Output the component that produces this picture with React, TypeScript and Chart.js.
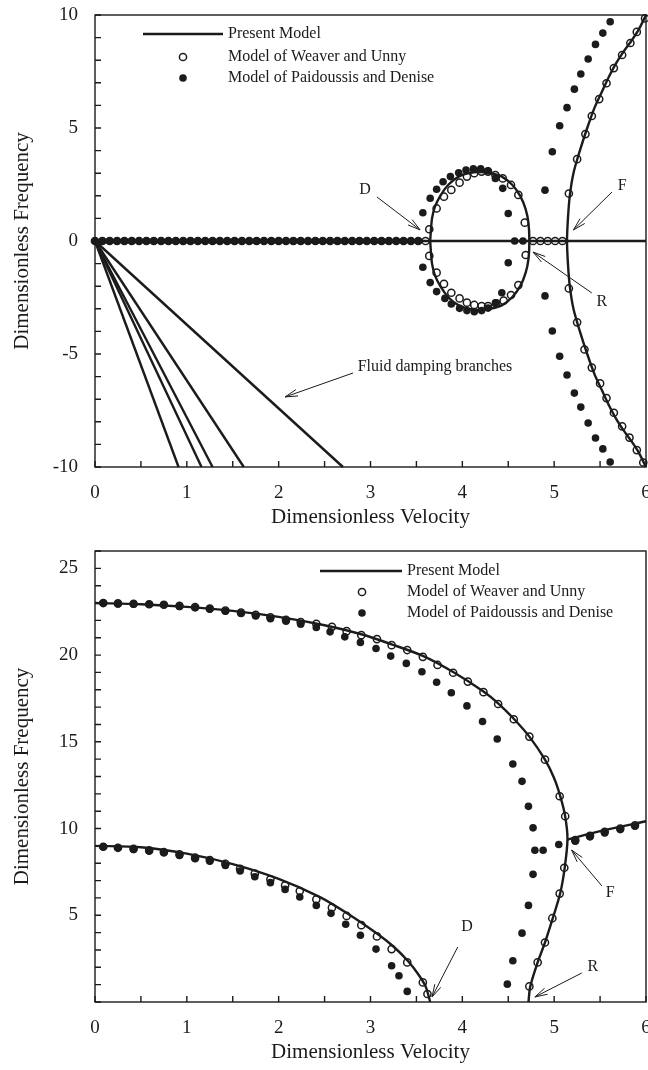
import React, { useEffect, useRef } from "react";
import { Chart, registerables } from "chart.js";
Chart.register(...registerables);

const FONT = "'Liberation Serif', 'Times New Roman', Times, serif";
const INK = "#1b1b1b";

// ---------------- TOP CHART DATA ----------------
const topZeroLineX = [0, 6];
const topZeroLineY = [0, 0];
const dampingEndX = [0.91, 1.16, 1.28, 1.62, 2.7];
const dampingEndY = [-10, -10, -10, -10, -10];

const topLoopX = [3.65, 3.66, 3.67, 3.7, 3.76, 3.85, 3.96, 4.07, 4.19, 4.31, 4.43, 4.54, 4.63, 4.69, 4.72, 4.73,
  4.72, 4.69, 4.63, 4.54, 4.43, 4.31, 4.19, 4.07, 3.96, 3.85, 3.76, 3.7, 3.67, 3.66, 3.65];
const topLoopY = [0, 0.6, 1.0, 1.5, 2.0, 2.5, 2.85, 3.0, 3.05, 2.99, 2.85, 2.5, 2.0, 1.4, 0.8, 0,
  -0.8, -1.4, -2.0, -2.5, -2.85, -2.99, -3.05, -3.0, -2.85, -2.5, -2.0, -1.5, -1.0, -0.6, 0];

const topBranchX = [6.0, 5.92, 5.84, 5.76, 5.68, 5.6, 5.52, 5.44, 5.36, 5.28, 5.21, 5.17, 5.15, 5.14,
  5.15, 5.17, 5.21, 5.28, 5.36, 5.44, 5.52, 5.6, 5.68, 5.76, 5.84, 5.92, 6.0];
const topBranchY = [-10, -9.35, -8.85, -8.4, -7.9, -7.3, -6.6, -5.9, -5, -4, -3, -2, -1, 0,
  1, 2, 3, 4, 5, 5.9, 6.6, 7.3, 7.9, 8.4, 8.85, 9.35, 10];

const topRowY = 0;
const weaverRowX = [0, 0.08, 0.16, 0.24, 0.32, 0.4, 0.48, 0.56, 0.64, 0.72, 0.8, 0.88, 0.96, 1.04, 1.12, 1.2,
  1.28, 1.36, 1.44, 1.52, 1.6, 1.68, 1.76, 1.84, 1.92, 2.0, 2.08, 2.16, 2.24, 2.32, 2.4, 2.48, 2.56, 2.64,
  2.72, 2.8, 2.88, 2.96, 3.04, 3.12, 3.2, 3.28, 3.36, 3.44, 3.52, 3.6, 4.77, 4.85, 4.93, 5.01, 5.09];
const paidRowX = [0, 0.08, 0.16, 0.24, 0.32, 0.4, 0.48, 0.56, 0.64, 0.72, 0.8, 0.88, 0.96, 1.04, 1.12, 1.2,
  1.28, 1.36, 1.44, 1.52, 1.6, 1.68, 1.76, 1.84, 1.92, 2.0, 2.08, 2.16, 2.24, 2.32, 2.4, 2.48, 2.56, 2.64,
  2.72, 2.8, 2.88, 2.96, 3.04, 3.12, 3.2, 3.28, 3.36, 3.44, 3.52, 4.57, 4.66];

const weaverLoopUpX = [3.64, 3.72, 3.8, 3.88, 3.97, 4.05, 4.13, 4.21, 4.28, 4.36, 4.44, 4.53, 4.61, 4.68];
const weaverLoopUpY = [0.52, 1.44, 1.96, 2.26, 2.58, 2.85, 3.0, 3.07, 3.07, 2.92, 2.77, 2.48, 2.04, 0.81];
const weaverLoopLoX = [3.64, 3.72, 3.8, 3.88, 3.97, 4.05, 4.13, 4.21, 4.28, 4.37, 4.45, 4.53, 4.61, 4.69];
const weaverLoopLoY = [-0.66, -1.4, -1.9, -2.29, -2.54, -2.73, -2.83, -2.88, -2.88, -2.76, -2.64, -2.39, -1.95, -0.62];

const weaverBranchUpX = [5.16, 5.25, 5.34, 5.41, 5.49, 5.57, 5.65, 5.74, 5.83, 5.9, 5.99];
const weaverBranchUpY = [2.1, 3.62, 4.73, 5.53, 6.28, 6.98, 7.65, 8.23, 8.76, 9.25, 9.85];
const weaverBranchLoX = [5.16, 5.25, 5.33, 5.41, 5.5, 5.57, 5.65, 5.74, 5.82, 5.9, 5.97];
const weaverBranchLoY = [-2.1, -3.6, -4.8, -5.6, -6.3, -6.95, -7.6, -8.2, -8.7, -9.25, -9.8];

const paidLoopUpX = [3.57, 3.65, 3.72, 3.79, 3.87, 3.96, 4.04, 4.12, 4.2, 4.28, 4.36, 4.44, 4.5];
const paidLoopUpY = [1.25, 1.89, 2.29, 2.62, 2.85, 3.02, 3.14, 3.2, 3.2, 3.11, 2.77, 2.33, 1.22];
const paidLoopLoX = [3.57, 3.65, 3.72, 3.81, 3.88, 3.97, 4.05, 4.13, 4.21, 4.28, 4.36, 4.43, 4.5];
const paidLoopLoY = [-1.16, -1.84, -2.24, -2.54, -2.79, -2.98, -3.08, -3.13, -3.08, -2.97, -2.74, -2.29, -0.96];

const paidBranchX = [4.9, 4.98, 5.06, 5.14, 5.22, 5.29, 5.37, 5.45, 5.53, 5.61];
const paidBranchUpY = [2.25, 3.95, 5.1, 5.9, 6.72, 7.39, 8.05, 8.7, 9.2, 9.7];
const paidBranchLoY = [-2.43, -3.98, -5.1, -5.93, -6.73, -7.35, -8.05, -8.72, -9.2, -9.78];

// ---------------- BOTTOM CHART DATA ----------------
const botUpperX = [0, 0.5, 1.0, 1.5, 2.0, 2.5, 2.9, 3.23, 3.57, 3.9, 4.23, 4.39, 4.56, 4.73, 4.9, 5.0, 5.07,
  5.12, 5.145, 5.115, 5.065, 4.985, 4.9, 4.82, 4.74, 4.72];
const botUpperY = [23.0, 22.93, 22.78, 22.55, 22.2, 21.72, 21.2, 20.62, 19.95, 19.02, 17.9, 17.22, 16.33, 15.3,
  13.97, 12.9, 11.8, 10.7, 9.4, 7.75, 6.25, 4.83, 3.43, 2.28, 0.9, 0];
const botFBranchX = [5.145, 5.5, 6.0];
const botFBranchY = [9.37, 9.85, 10.42];
const botLowerX = [0, 0.5, 1.0, 1.5, 2.0, 2.45, 2.75, 3.07, 3.25, 3.41, 3.52, 3.6, 3.65];
const botLowerY = [9.0, 8.92, 8.55, 7.95, 7.1, 6.05, 5.1, 3.95, 3.2, 2.35, 1.6, 0.9, 0];

const weaverUpperX = [0.09, 0.25, 0.42, 0.59, 0.75, 0.92, 1.09, 1.25, 1.42, 1.59, 1.75, 1.91, 2.08, 2.24, 2.41,
  2.58, 2.74, 2.9, 3.07, 3.23, 3.4, 3.57, 3.73, 3.9, 4.06, 4.23, 4.39, 4.56, 4.73, 4.9, 5.06, 5.12, 5.11, 5.06,
  4.98, 4.9, 4.82, 4.73];
const weaverUpperY = [23.0, 22.98, 22.96, 22.93, 22.9, 22.84, 22.77, 22.68, 22.57, 22.45, 22.32, 22.18, 22.03,
  21.9, 21.8, 21.63, 21.38, 21.15, 20.92, 20.57, 20.29, 19.9, 19.43, 18.98, 18.47, 17.86, 17.18, 16.3, 15.3,
  13.97, 11.86, 10.71, 7.74, 6.25, 4.83, 3.43, 2.28, 0.9];
const weaverFX = [5.23, 5.39, 5.55, 5.72, 5.88];
const weaverFY = [9.33, 9.58, 9.81, 10.0, 10.19];
const weaverLowerX = [0.09, 0.25, 0.42, 0.59, 0.75, 0.92, 1.09, 1.25, 1.42, 1.58, 1.74, 1.91, 2.07, 2.23, 2.41,
  2.58, 2.74, 2.9, 3.07, 3.23, 3.4, 3.57, 3.62];
const weaverLowerY = [8.95, 8.89, 8.83, 8.74, 8.64, 8.51, 8.32, 8.18, 7.97, 7.68, 7.4, 7.07, 6.72, 6.4, 5.92,
  5.44, 4.96, 4.43, 3.78, 3.05, 2.28, 1.13, 0.46];

const paidUpperX = [0.09, 0.25, 0.42, 0.59, 0.75, 0.92, 1.09, 1.25, 1.42, 1.59, 1.75, 1.91, 2.08, 2.24, 2.41,
  2.56, 2.72, 2.89, 3.06, 3.22, 3.39, 3.56, 3.72, 3.88, 4.05, 4.22, 4.38, 4.55, 4.65, 4.72, 4.77, 4.79, 4.88,
  5.05, 4.77, 4.72, 4.65, 4.55, 4.49];
const paidUpperY = [23.0, 22.95, 22.93, 22.93, 22.9, 22.8, 22.73, 22.65, 22.53, 22.4, 22.25, 22.1, 21.95, 21.78,
  21.59, 21.34, 21.05, 20.73, 20.38, 19.94, 19.52, 19.04, 18.43, 17.83, 17.07, 16.17, 15.16, 13.72, 12.72, 11.28,
  10.04, 8.75, 8.75, 9.08, 7.36, 5.57, 3.97, 2.38, 1.03];
const paidFX = [5.23, 5.39, 5.55, 5.72, 5.88];
const paidFY = [9.27, 9.52, 9.75, 9.94, 10.13];
const paidLowerX = [0.09, 0.25, 0.42, 0.59, 0.75, 0.92, 1.09, 1.25, 1.42, 1.58, 1.74, 1.91, 2.07, 2.23, 2.41,
  2.57, 2.73, 2.89, 3.06, 3.23, 3.31, 3.4];
const paidLowerY = [8.95, 8.89, 8.79, 8.7, 8.6, 8.45, 8.26, 8.12, 7.87, 7.55, 7.22, 6.88, 6.49, 6.05, 5.57,
  5.11, 4.48, 3.85, 3.05, 2.09, 1.51, 0.61];

const legendLabels = ["Present Model", "Model of Weaver and Unny", "Model of Paidoussis and Denise"];
const xTitle = "Dimensionless Velocity";
const yTitle = "Dimensionless Frequency";

// ---------------- helpers ----------------
const zip = (xs: number[], ys: number[] | number) =>
  xs.map((x, i) => ({ x, y: Array.isArray(ys) ? ys[i] : ys }));

const solid = (data: any[], tension = 0.3) => ({
  data, showLine: true, borderColor: INK, borderWidth: 2.4, pointRadius: 0, tension, fill: false, clip: false as any,
});
const open = (data: any[]) => ({
  data, showLine: false, pointRadius: 3.6, pointBorderWidth: 1.5, pointBorderColor: INK,
  pointBackgroundColor: "rgba(0,0,0,0)", clip: false as any,
});
const filled = (data: any[]) => ({
  data, showLine: false, pointRadius: 3.8, pointBorderWidth: 0, pointBorderColor: INK,
  pointBackgroundColor: INK, clip: false as any,
});

type Note = { text: string; at: [number, number]; align: CanvasTextAlign; from: [number, number]; to: [number, number] };
type Leg = { x1: number; x2: number; mx: number; tx: number; ys: [number, number, number] };

function drawArrow(ctx: CanvasRenderingContext2D, x1: number, y1: number, x2: number, y2: number) {
  ctx.beginPath();
  ctx.moveTo(x1, y1);
  ctx.lineTo(x2, y2);
  ctx.stroke();
  const a = Math.atan2(y2 - y1, x2 - x1);
  const L = 13, w = 0.26;
  ctx.beginPath();
  ctx.moveTo(x2 - L * Math.cos(a - w), y2 - L * Math.sin(a - w));
  ctx.lineTo(x2, y2);
  ctx.lineTo(x2 - L * Math.cos(a + w), y2 - L * Math.sin(a + w));
  ctx.stroke();
}

function decor(leg: Leg, notes: Note[]) {
  return {
    id: "decor",
    afterDraw(chart: any) {
      const { ctx, chartArea: a, scales } = chart;
      const xs = scales.x, ys = scales.y;
      ctx.save();
      ctx.strokeStyle = INK;
      ctx.lineWidth = 1.4;
      ctx.strokeRect(a.left, a.top, a.right - a.left, a.bottom - a.top);
      ctx.beginPath();
      for (const t of xs.ticks) {
        const p = xs.getPixelForValue(t.value);
        ctx.moveTo(p, a.bottom);
        ctx.lineTo(p, a.bottom - 6);
      }
      for (const t of ys.ticks) {
        const p = ys.getPixelForValue(t.value);
        ctx.moveTo(a.left, p);
        ctx.lineTo(a.left + 6, p);
      }
      ctx.stroke();

      // legend
      ctx.font = `16px ${FONT}`;
      ctx.fillStyle = INK;
      ctx.textBaseline = "middle";
      ctx.textAlign = "left";
      ctx.lineWidth = 2.4;
      ctx.beginPath();
      ctx.moveTo(leg.x1, leg.ys[0]);
      ctx.lineTo(leg.x2, leg.ys[0]);
      ctx.stroke();
      ctx.lineWidth = 1.5;
      ctx.beginPath();
      ctx.arc(leg.mx, leg.ys[1], 3.6, 0, Math.PI * 2);
      ctx.stroke();
      ctx.beginPath();
      ctx.arc(leg.mx, leg.ys[2], 3.8, 0, Math.PI * 2);
      ctx.fill();
      legendLabels.forEach((s, i) => ctx.fillText(s, leg.tx, leg.ys[i]));

      // annotations
      ctx.lineWidth = 1;
      for (const n of notes) {
        ctx.textAlign = n.align;
        ctx.fillText(n.text, xs.getPixelForValue(n.at[0]), ys.getPixelForValue(n.at[1]));
        drawArrow(ctx, xs.getPixelForValue(n.from[0]), ys.getPixelForValue(n.from[1]),
          xs.getPixelForValue(n.to[0]), ys.getPixelForValue(n.to[1]));
      }
      ctx.restore();
    },
  };
}

function makeConfig(datasets: any[], yMin: number, yMax: number, showZero: boolean, topPad: number, leg: Leg, notes: Note[]) {
  return {
    type: "scatter" as const,
    data: { datasets },
    options: {
      animation: false as const,
      responsive: false,
      devicePixelRatio: 1,
      layout: { autoPadding: false, padding: { left: 0, top: topPad, right: 2, bottom: 0 } },
      plugins: { legend: { display: false }, tooltip: { enabled: false } },
      scales: {
        x: {
          type: "linear" as const, min: 0, max: 6, position: "bottom" as const,
          grid: { display: false, drawTicks: false },
          border: { display: false },
          ticks: {
            stepSize: 0.5, autoSkip: false, maxRotation: 0, padding: 15, color: INK,
            font: { size: 19, family: FONT },
            callback: (v: any) => (Number.isInteger(v) ? String(v) : ""),
          },
          title: { display: true, text: xTitle, color: INK, font: { size: 21, family: FONT }, padding: { top: 0, bottom: 5 } },
          afterFit: (s: any) => { s.height = 68; s.paddingLeft = 0; s.paddingRight = 0; },
        },
        y: {
          type: "linear" as const, min: yMin, max: yMax, position: "left" as const,
          grid: { display: false, drawTicks: false },
          border: { display: false },
          ticks: {
            stepSize: 1, autoSkip: false, padding: 17, color: INK,
            font: { size: 19, family: FONT },
            callback: (v: any) => (v % 5 === 0 && (showZero || v !== 0) ? String(v) : ""),
          },
          title: { display: true, text: yTitle, color: INK, font: { size: 21, family: FONT }, padding: { top: 10, bottom: 0 } },
          afterFit: (s: any) => { s.width = 95; s.paddingTop = 0; s.paddingBottom = 0; },
        },
      },
    },
    plugins: [decor(leg, notes)],
  };
}

function useChart(ref: React.RefObject<HTMLCanvasElement>, build: () => any) {
  useEffect(() => {
    if (!ref.current) return;
    const chart = new Chart(ref.current, build());
    return () => chart.destroy();
  }, []);
}

export default function App() {
  const topRef = useRef<HTMLCanvasElement>(null);
  const botRef = useRef<HTMLCanvasElement>(null);

  useChart(topRef, () => {
    const ds: any[] = [
      solid(zip(topZeroLineX, topZeroLineY), 0),
      ...dampingEndX.map((ex, i) => solid([{ x: 0, y: 0 }, { x: ex, y: dampingEndY[i] }], 0)),
      solid(zip(topLoopX, topLoopY)),
      solid(zip(topBranchX, topBranchY)),
      open(zip(weaverRowX, topRowY)),
      open(zip(weaverLoopUpX, weaverLoopUpY)),
      open(zip(weaverLoopLoX, weaverLoopLoY)),
      open(zip(weaverBranchUpX, weaverBranchUpY)),
      open(zip(weaverBranchLoX, weaverBranchLoY)),
      filled(zip(paidRowX, topRowY)),
      filled(zip(paidLoopUpX, paidLoopUpY)),
      filled(zip(paidLoopLoX, paidLoopLoY)),
      filled(zip(paidBranchX, paidBranchUpY)),
      filled(zip(paidBranchX, paidBranchLoY)),
    ];
    const notes: Note[] = [
      { text: "D", at: [2.94, 2.26], align: "center", from: [3.07, 1.95], to: [3.54, 0.49] },
      { text: "F", at: [5.74, 2.43], align: "center", from: [5.63, 2.17], to: [5.21, 0.49] },
      { text: "R", at: [5.52, -2.7], align: "center", from: [5.41, -2.3], to: [4.77, -0.49] },
      { text: "Fluid damping branches", at: [2.86, -5.58], align: "left", from: [2.81, -5.84], to: [2.07, -6.9] },
    ];
    return makeConfig(ds, -10, 10, true, 15, { x1: 143, x2: 223, mx: 183, tx: 228, ys: [34, 57, 78] }, notes);
  });

  useChart(botRef, () => {
    const ds: any[] = [
      solid(zip(botUpperX, botUpperY)),
      solid(zip(botFBranchX, botFBranchY)),
      solid(zip(botLowerX, botLowerY)),
      open(zip(weaverUpperX, weaverUpperY)),
      open(zip(weaverFX, weaverFY)),
      open(zip(weaverLowerX, weaverLowerY)),
      filled(zip(paidUpperX, paidUpperY)),
      filled(zip(paidFX, paidFY)),
      filled(zip(paidLowerX, paidLowerY)),
    ];
    const notes: Note[] = [
      { text: "D", at: [4.05, 4.32], align: "center", from: [3.95, 3.17], to: [3.67, 0.29] },
      { text: "F", at: [5.61, 6.28], align: "center", from: [5.52, 6.69], to: [5.19, 8.76] },
      { text: "R", at: [5.42, 2.02], align: "center", from: [5.3, 1.67], to: [4.79, 0.29] },
    ];
    return makeConfig(ds, 0, 26, false, 16, { x1: 320, x2: 402, mx: 362, tx: 407, ys: [36, 57, 78] }, notes);
  });

  return (
    <div style={{ position: "absolute", left: 0, top: 0, width: 648, height: 1070, background: "#fff" }}>
      <canvas ref={topRef} width={648} height={535} style={{ display: "block", width: 648, height: 535 }} />
      <canvas ref={botRef} width={648} height={535} style={{ display: "block", width: 648, height: 535 }} />
    </div>
  );
}
